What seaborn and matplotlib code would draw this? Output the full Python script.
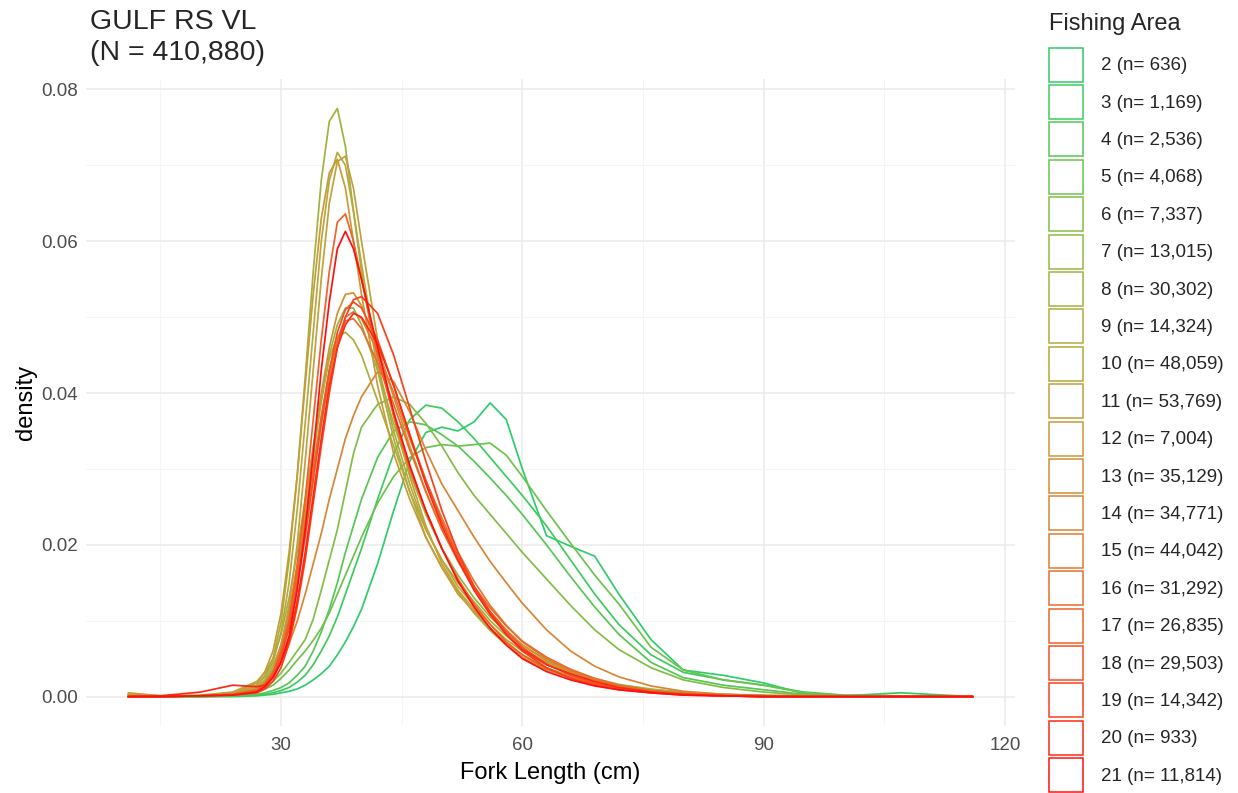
import numpy as np
import pandas as pd
import matplotlib
matplotlib.use("Agg")
import matplotlib.pyplot as plt
import seaborn as sns
from matplotlib.patches import Patch

# ---------------- data ----------------
fork_length = [11, 15, 20, 24, 27, 28, 29, 30, 31, 32, 33, 34, 35, 36, 37, 38, 39, 40,
               42, 44, 46, 48, 50, 52, 54, 56, 58, 60, 63, 66, 69, 72, 76, 80, 85, 90,
               95, 100, 107, 116]

areas = [2, 3, 4, 5, 6, 7, 8, 9, 10, 11, 12, 13, 14, 15, 16, 17, 18, 19, 20, 21]
counts = [636, 1169, 2536, 4068, 7337, 13015, 30302, 14324, 48059, 53769,
          7004, 35129, 34771, 44042, 31292, 26835, 29503, 14342, 933, 11814]

dens_2 = [0, 0, 0, 0, 0.0001, 0.0002, 0.0003, 0.0005, 0.0007, 0.001, 0.0015, 0.0022, 0.003, 0.004,
          0.0055, 0.0072, 0.0092, 0.0115, 0.0175, 0.0245, 0.031, 0.0348, 0.0355, 0.035, 0.0362,
          0.0387, 0.0365, 0.030, 0.0212, 0.0198, 0.0185, 0.0135, 0.0075, 0.0035, 0.0028, 0.0018,
          0.0004, 0.0001, 0.0005, 0]
dens_3 = [0, 0, 0, 0.0001, 0.0002, 0.0003, 0.0005, 0.0008, 0.0012, 0.0019, 0.0028, 0.0042, 0.006,
          0.008, 0.0105, 0.0135, 0.0165, 0.0195, 0.026, 0.032, 0.0365, 0.0384, 0.038, 0.0362, 0.034,
          0.0315, 0.029, 0.0265, 0.0225, 0.018, 0.0135, 0.0095, 0.0055, 0.0032, 0.0022, 0.0015,
          0.0006, 0.0002, 0.0001, 0]
dens_4 = [0, 0, 0, 0.0001, 0.0003, 0.0005, 0.0008, 0.0012, 0.0018, 0.0028, 0.004, 0.006, 0.0085,
          0.0115, 0.015, 0.019, 0.0225, 0.026, 0.0315, 0.035, 0.0362, 0.0358, 0.0345, 0.033, 0.031,
          0.0288, 0.0265, 0.024, 0.020, 0.0158, 0.0118, 0.0082, 0.0045, 0.0025, 0.0015, 0.0009,
          0.0003, 0.0001, 0, 0]
dens_5 = [0, 0, 0, 0.0002, 0.0006, 0.001, 0.0015, 0.0024, 0.0035, 0.0048, 0.006, 0.0074, 0.009,
          0.011, 0.0135, 0.016, 0.0185, 0.021, 0.0255, 0.029, 0.0315, 0.0328, 0.0332, 0.033, 0.0332,
          0.0334, 0.0318, 0.029, 0.0245, 0.0202, 0.016, 0.0122, 0.0065, 0.0035, 0.0022, 0.0015,
          0.0005, 0.0001, 0, 0]
dens_6 = [0, 0, 0.0001, 0.0003, 0.0008, 0.0013, 0.002, 0.0031, 0.0045, 0.006, 0.0075, 0.0102, 0.014,
          0.018, 0.022, 0.027, 0.032, 0.0355, 0.0385, 0.0395, 0.0385, 0.036, 0.033, 0.0295, 0.0265,
          0.024, 0.0215, 0.019, 0.0155, 0.012, 0.0088, 0.0062, 0.0038, 0.0022, 0.0012, 0.0006,
          0.0002, 0.0001, 0, 0]
dens_7 = [0, 0, 0.0001, 0.0004, 0.0012, 0.0022, 0.004, 0.0068, 0.011, 0.0168, 0.024, 0.0315, 0.039,
          0.045, 0.049, 0.0512, 0.0512, 0.049, 0.043, 0.036, 0.0295, 0.024, 0.0195, 0.016, 0.013,
          0.0105, 0.0085, 0.0068, 0.0048, 0.0034, 0.0024, 0.0016, 0.001, 0.0006, 0.0003, 0.0002,
          0.0001, 0, 0, 0]
dens_8 = [0.0002, 0, 0.0001, 0.0004, 0.0015, 0.0028, 0.005, 0.0098, 0.018, 0.029, 0.042, 0.056, 0.068,
          0.0758, 0.0775, 0.0725, 0.064, 0.056, 0.043, 0.034, 0.027, 0.021, 0.017, 0.0138, 0.011,
          0.0087, 0.0068, 0.0051, 0.0035, 0.0025, 0.0017, 0.0012, 0.0007, 0.0004, 0.0002, 0.0001,
          0.0001, 0, 0, 0]
dens_9 = [0.0003, 0.0001, 0.0002, 0.0006, 0.002, 0.0032, 0.005, 0.0082, 0.013, 0.019, 0.026, 0.0328,
          0.039, 0.0445, 0.0475, 0.048, 0.047, 0.045, 0.039, 0.033, 0.027, 0.022, 0.018, 0.015,
          0.0125, 0.01, 0.008, 0.0063, 0.0045, 0.0032, 0.0022, 0.0015, 0.0009, 0.0005, 0.0003,
          0.0001, 0, 0, 0, 0]
dens_10 = [0.0003, 0.0001, 0.0001, 0.0004, 0.0015, 0.0026, 0.0045, 0.0085, 0.015, 0.0245, 0.036,
           0.048, 0.060, 0.068, 0.0717, 0.070, 0.064, 0.057, 0.044, 0.035, 0.028, 0.022, 0.018,
           0.0145, 0.012, 0.0095, 0.0075, 0.006, 0.0042, 0.003, 0.002, 0.0014, 0.0008, 0.0004,
           0.0002, 0.0001, 0, 0, 0, 0]
dens_11 = [0.0002, 0.0001, 0.0001, 0.0003, 0.0012, 0.002, 0.0035, 0.0068, 0.012, 0.020, 0.031, 0.043,
           0.055, 0.065, 0.0705, 0.0712, 0.067, 0.060, 0.047, 0.037, 0.029, 0.0225, 0.0175, 0.014,
           0.0115, 0.009, 0.007, 0.0055, 0.0038, 0.0027, 0.0018, 0.0012, 0.0007, 0.0004, 0.0002,
           0.0001, 0, 0, 0, 0]
dens_12 = [0.0005, 0.0001, 0.0001, 0.0005, 0.0018, 0.0033, 0.006, 0.011, 0.019, 0.029, 0.041, 0.053,
           0.063, 0.069, 0.0708, 0.067, 0.060, 0.053, 0.041, 0.032, 0.026, 0.021, 0.017, 0.0135,
           0.0112, 0.009, 0.007, 0.0052, 0.0036, 0.0026, 0.0018, 0.0012, 0.0007, 0.0004, 0.0002,
           0.0001, 0, 0, 0, 0]
dens_13 = [0, 0, 0.0001, 0.0003, 0.001, 0.0019, 0.0035, 0.0065, 0.011, 0.0175, 0.025, 0.0328, 0.040,
           0.046, 0.0505, 0.053, 0.0532, 0.0515, 0.046, 0.0395, 0.033, 0.027, 0.022, 0.0178, 0.0142,
           0.0112, 0.0088, 0.0068, 0.0047, 0.0032, 0.0021, 0.0013, 0.0007, 0.0004, 0.0002, 0.0001,
           0, 0, 0, 0]
dens_14 = [0, 0, 0.0001, 0.0003, 0.0009, 0.0016, 0.0028, 0.0046, 0.007, 0.0099, 0.0135, 0.0175,
           0.0215, 0.026, 0.030, 0.034, 0.037, 0.0395, 0.0428, 0.0415, 0.0375, 0.0325, 0.028, 0.0245,
           0.021, 0.0178, 0.015, 0.0123, 0.0088, 0.006, 0.004, 0.0026, 0.0014, 0.0007, 0.0003,
           0.0001, 0, 0, 0, 0]
dens_15 = [0, 0, 0.0001, 0.0003, 0.0008, 0.0016, 0.003, 0.0056, 0.0095, 0.015, 0.022, 0.029, 0.036,
           0.042, 0.047, 0.050, 0.0507, 0.0498, 0.0455, 0.040, 0.034, 0.0285, 0.0235, 0.019, 0.0152,
           0.012, 0.0094, 0.0072, 0.005, 0.0034, 0.0022, 0.0014, 0.0008, 0.0004, 0.0002, 0.0001,
           0, 0, 0, 0]
dens_16 = [0, 0, 0.0001, 0.0003, 0.0009, 0.0017, 0.0032, 0.006, 0.010, 0.0158, 0.023, 0.030, 0.037,
           0.043, 0.047, 0.0495, 0.0498, 0.0485, 0.044, 0.0385, 0.0325, 0.027, 0.022, 0.018, 0.0145,
           0.0117, 0.0093, 0.0073, 0.0052, 0.0036, 0.0024, 0.0015, 0.0008, 0.0004, 0.0002, 0.0001,
           0, 0, 0, 0]
dens_17 = [0, 0, 0.0001, 0.0003, 0.0008, 0.0016, 0.003, 0.0058, 0.010, 0.017, 0.026, 0.0365, 0.047,
           0.056, 0.0625, 0.0636, 0.060, 0.055, 0.045, 0.037, 0.030, 0.0245, 0.0195, 0.0155, 0.0122,
           0.0095, 0.0072, 0.0055, 0.0037, 0.0025, 0.0016, 0.001, 0.0005, 0.0003, 0.0001, 0,
           0, 0, 0, 0]
dens_18 = [0, 0, 0.0001, 0.0002, 0.0007, 0.0014, 0.0028, 0.0052, 0.009, 0.0145, 0.021, 0.0285, 0.036,
           0.043, 0.048, 0.051, 0.052, 0.0512, 0.047, 0.041, 0.0345, 0.0285, 0.023, 0.0185, 0.0145,
           0.0112, 0.0086, 0.0065, 0.0043, 0.0028, 0.0018, 0.0011, 0.0006, 0.0003, 0.0001, 0,
           0, 0, 0, 0]
dens_19 = [0, 0, 0.0001, 0.0002, 0.0005, 0.001, 0.002, 0.0038, 0.007, 0.0118, 0.018, 0.0255, 0.033,
           0.040, 0.046, 0.050, 0.0523, 0.0527, 0.0505, 0.045, 0.038, 0.031, 0.0245, 0.019, 0.0145,
           0.011, 0.0082, 0.006, 0.0038, 0.0024, 0.0015, 0.0009, 0.0005, 0.0002, 0.0001, 0,
           0, 0, 0, 0]
dens_20 = [0, 0.0001, 0.0006, 0.0015, 0.0013, 0.0015, 0.0025, 0.0045, 0.0075, 0.0125, 0.019, 0.0265,
           0.034, 0.041, 0.046, 0.049, 0.0505, 0.050, 0.0465, 0.041, 0.0345, 0.028, 0.0225, 0.018,
           0.014, 0.0108, 0.0082, 0.0062, 0.0042, 0.003, 0.002, 0.0012, 0.0006, 0.0003, 0.0001, 0,
           0, 0, 0, 0]
dens_21 = [0, 0, 0.0001, 0.0002, 0.0006, 0.0013, 0.0025, 0.0046, 0.008, 0.014, 0.022, 0.032, 0.043,
           0.052, 0.059, 0.0613, 0.059, 0.055, 0.046, 0.0375, 0.0305, 0.0245, 0.0195, 0.0152, 0.0118,
           0.009, 0.0068, 0.005, 0.0033, 0.0022, 0.0014, 0.0009, 0.0005, 0.0002, 0.0001, 0,
           0, 0, 0, 0]

densities = [dens_2, dens_3, dens_4, dens_5, dens_6, dens_7, dens_8, dens_9, dens_10, dens_11,
             dens_12, dens_13, dens_14, dens_15, dens_16, dens_17, dens_18, dens_19, dens_20, dens_21]

# ---------------- style ----------------
area_colors = ["#2ECC6A", "#3ECA5E", "#56C654", "#6CC24C", "#82BD46", "#94B842", "#A3B23E",
               "#ACAD3C", "#B8A73A", "#C0A13A", "#C99A38", "#D19036", "#D98533", "#E07A30",
               "#E86D2C", "#F06028", "#F45022", "#F8401C", "#FC2A14", "#FF1010"]

labels = [f"{a} (n= {n:,})" for a, n in zip(areas, counts)]
palette = dict(zip(labels, area_colors))

rows = []
for lab, dens in zip(labels, densities):
    for x, d in zip(fork_length, dens):
        rows.append((lab, x, d))
df = pd.DataFrame(rows, columns=["area", "fork_length", "density"])

sns.set_theme(style="whitegrid")
plt.rcParams["font.family"] = ["Liberation Sans", "DejaVu Sans"]

W, H = 1238, 793
fig = plt.figure(figsize=(W / 100, H / 100), dpi=100)
ax = fig.add_axes([86 / W, 1 - 726 / H, (1015 - 86) / W, (726 - 79) / H])

sns.lineplot(data=df, x="fork_length", y="density", hue="area", hue_order=labels,
             palette=palette, estimator=None, sort=False, linewidth=1.25, ax=ax, legend=False)

xmin, xmax = min(fork_length), max(fork_length)
ymax = max(max(d) for d in densities)
ax.set_xlim(xmin - 0.05 * (xmax - xmin), xmax + 0.05 * (xmax - xmin))
ax.set_ylim(-0.05 * ymax, ymax * 1.05)
ax.set_xticks([30, 60, 90, 120])
ax.set_yticks([0.00, 0.02, 0.04, 0.06, 0.08])
ax.set_yticklabels([f"{v:.2f}" for v in [0.00, 0.02, 0.04, 0.06, 0.08]])
ax.set_xticks([15, 45, 75, 105], minor=True)
ax.set_yticks([0.01, 0.03, 0.05, 0.07], minor=True)
ax.set_facecolor("white")
ax.grid(which="major", color="#EBEBEB", linewidth=1.1)
ax.grid(which="minor", color="#F4F4F4", linewidth=0.6)
for s in ax.spines.values():
    s.set_visible(False)
ax.tick_params(axis="both", which="both", length=0, labelsize=13.5, labelcolor="#4D4D4D")
ax.tick_params(axis="x", pad=8)
ax.tick_params(axis="y", pad=6)
ax.set_xlabel("Fork Length (cm)", fontsize=17, color="black", labelpad=6)
ax.set_ylabel("density", fontsize=17, color="black", labelpad=3)

N_total = sum(counts)
fig.text(90 / W, 1 - 9 / H, f"GULF RS VL\n(N = {N_total:,})", ha="left", va="top",
         fontsize=20.5, linespacing=1.27)

handles = [Patch(facecolor="none", edgecolor=c, linewidth=1.1) for c in area_colors]
leg = fig.legend(handles, labels, loc="upper left", bbox_to_anchor=(1049 / W, 1 - 13 / H),
                 frameon=False, fontsize=13.5, title="Fishing Area", title_fontsize=17,
                 handlelength=1.81, handleheight=2.415, labelspacing=0.18,
                 handletextpad=0.96, borderpad=0, borderaxespad=0, alignment="left")
leg._legend_box.sep = 9.0

fig.savefig("out.png", dpi=100, facecolor="white")
